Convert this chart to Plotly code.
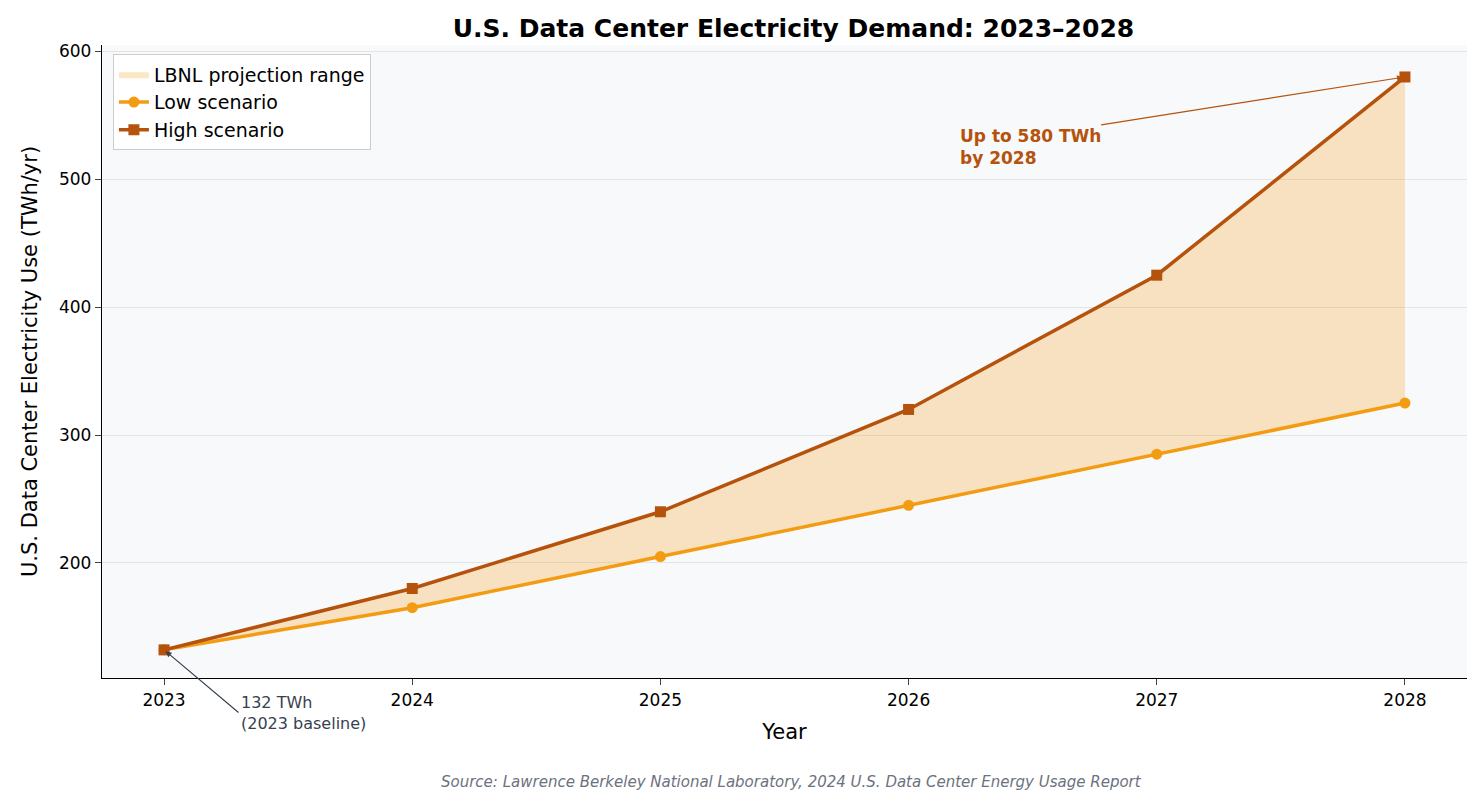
import plotly.graph_objects as go

years = [2023, 2024, 2025, 2026, 2027, 2028]
low = [132, 165, 205, 245, 285, 325]
high = [132, 180, 240, 320, 425, 580]
yticks = [200, 300, 400, 500, 600]

LOW_C = "#f39c12"
HIGH_C = "#b5520c"
FONT = "DejaVu Sans"

fig = go.Figure()
fig.add_trace(go.Scatter(x=years, y=low, mode="lines", line=dict(width=0), showlegend=False, hoverinfo="skip"))
fig.add_trace(go.Scatter(x=years, y=high, mode="lines", line=dict(width=0), fill="tonexty",
                         fillcolor="rgba(243,156,18,0.25)", name="LBNL projection range"))
fig.add_trace(go.Scatter(x=years, y=low, mode="lines+markers", name="Low scenario",
                         line=dict(color=LOW_C, width=3.5), marker=dict(symbol="circle", size=11, color=LOW_C)))
fig.add_trace(go.Scatter(x=years, y=high, mode="lines+markers", name="High scenario",
                         line=dict(color=HIGH_C, width=3.5), marker=dict(symbol="square", size=11, color=HIGH_C)))

fig.add_annotation(x=2028, y=580, ax=2026.2, ay=525, axref="x", ayref="y", xref="x", yref="y",
                   text="<b>Up to 580 TWh<br>by 2028</b>", showarrow=True, arrowhead=2, arrowsize=1,
                   arrowwidth=1.2, arrowcolor=HIGH_C, font=dict(color=HIGH_C, size=17, family=FONT),
                   xanchor="left", yanchor="middle", align="left", standoff=2)
fig.add_annotation(x=2023, y=132, ax=2023.3, ay=83, axref="x", ayref="y", xref="x", yref="y",
                   text="132 TWh<br>(2023 baseline)", showarrow=True, arrowhead=2, arrowwidth=1.2,
                   arrowcolor="#374151", font=dict(color="#374151", size=16, family=FONT),
                   xanchor="left", yanchor="middle", align="left", standoff=2)
fig.add_annotation(x=0.505, y=-0.164, xref="paper", yref="paper", showarrow=False, yanchor="middle",
                   text="<i>Source: Lawrence Berkeley National Laboratory, 2024 U.S. Data Center Energy Usage Report</i>",
                   font=dict(color="#6b7280", size=15, family=FONT))

fig.update_layout(
    width=1482, height=806,
    margin=dict(l=94, r=23, t=37, b=136),
    paper_bgcolor="white", plot_bgcolor="#f8f9fb",
    font=dict(family=FONT, size=16, color="black"),
    title=dict(text="<b>U.S. Data Center Electricity Demand: 2023–2028</b>", x=0.53, xanchor="center",
               y=0.975, yanchor="middle", font=dict(size=25, family=FONT)),
    legend=dict(x=0.008, y=0.985, xanchor="left", yanchor="top", bgcolor="rgba(255,255,255,0.9)",
                bordercolor="#cccccc", borderwidth=1, font=dict(size=19), traceorder="normal"),
    xaxis=dict(range=[2022.75, 2028.25], tickvals=years, ticktext=[str(y) for y in years],
               title=dict(text="Year", font=dict(size=21)), showgrid=False, showline=True,
               linecolor="black", linewidth=1.3, ticks="outside", ticklen=6, tickfont=dict(size=17), zeroline=False),
    yaxis=dict(range=[110, 605], tickvals=yticks, title=dict(text="U.S. Data Center Electricity Use (TWh/yr)", font=dict(size=21)),
               showgrid=True, gridcolor="#e2e4e8", showline=True, linecolor="black", linewidth=1.3,
               ticks="outside", ticklen=6, tickfont=dict(size=17), zeroline=False),
)
fig.write_html("out.html")
